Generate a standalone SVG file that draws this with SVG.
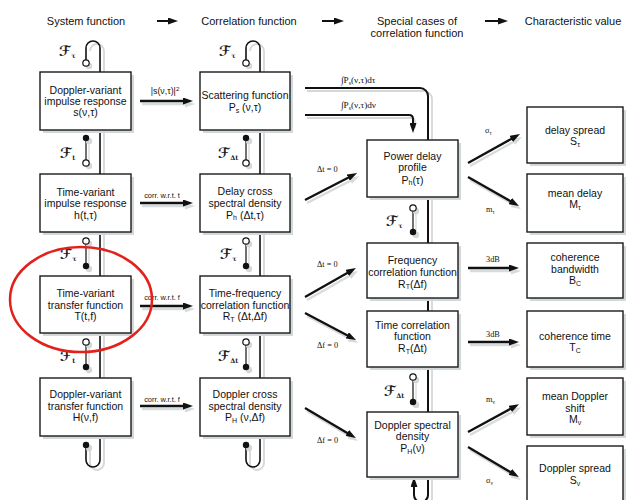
<svg xmlns="http://www.w3.org/2000/svg" width="626" height="500" viewBox="0 0 626 500">
<style>
.t{font-family:"Liberation Sans",Arial,sans-serif;font-size:10.5px;text-anchor:middle;fill:#111}
.h{font-family:"Liberation Sans",Arial,sans-serif;font-size:11px;text-anchor:middle;fill:#111}
.s{font-size:7px}
.box{fill:#fff;stroke:#1a1a1a;stroke-width:1.4}
.bsh{fill:#d3d8da}
.ln{fill:none;stroke:#111;stroke-width:1.6}
.lsh{fill:none;stroke:#d3d8da;stroke-width:1.8}
.ar{fill:none;stroke:#111;stroke-width:2.3;marker-end:url(#ah)}
.as{fill:none;stroke:#d6dbdd;stroke-width:2.3;marker-end:url(#ahs)}
.sm{stroke:#111;stroke-width:1.2}
.smh{stroke:#d3d8da;stroke-width:1.2}
.oc{fill:#fff;stroke:#111;stroke-width:1.2}
.fc{fill:#111}
.gc{fill:#d3d8da}
.f{font-family:"DejaVu Serif","DejaVu Sans",serif;font-style:italic;font-weight:bold;font-size:14px;fill:#222}
.fs{font-family:"DejaVu Serif",serif;font-style:normal;font-weight:bold;font-size:6.5px}
.lab{font-family:"Liberation Serif","Times New Roman",serif;font-size:8.3px;fill:#111}
.cl{font-family:"Liberation Sans",Arial,sans-serif;font-size:7.4px;fill:#111}
</style>
<defs>
<marker id="ah" viewBox="0 0 10 7" refX="2" refY="3.5" markerWidth="10" markerHeight="7" markerUnits="userSpaceOnUse" orient="auto"><path d="M0,0L10,3.5L0,7z" fill="#111"/></marker>
<marker id="ahs" viewBox="0 0 10 7" refX="2" refY="3.5" markerWidth="10" markerHeight="7" markerUnits="userSpaceOnUse" orient="auto"><path d="M0,0L10,3.5L0,7z" fill="#d6dbdd"/></marker>
</defs>
<rect width="626" height="500" fill="#fff"/>

<g id="headers">
<text class="h" x="86" y="25">System function</text>
<text class="h" x="249" y="25">Correlation function</text>
<text class="h" x="417" y="25">Special cases of</text>
<text class="h" x="417" y="37">correlation function</text>
<text class="h" x="573" y="25">Characteristic value</text>
<line class="ar" x1="157" y1="21" x2="170" y2="21" style="stroke-width:2"/>
<line class="ar" x1="322" y1="21" x2="336" y2="21" style="stroke-width:2"/>
<line class="ar" x1="485" y1="21" x2="500" y2="21" style="stroke-width:2"/>
</g>

<g id="connectors">
<path class="lsh" d="M90,51 V51 A7,7 0 0 1 104,51 V463 A7,7 0 0 1 90,463 V451"/>
<path class="lsh" d="M250,51 V51 A7,7 0 0 1 264,51 V463 A7,7 0 0 1 250,463 V451"/>
<path class="lsh" d="M307,91 H424 A8,8 0 0 1 432,99 V500"/>
<path class="lsh" d="M307,118 H411 Q415,118 415,122 V128"/>
<path class="ln" d="M86,60 V48 A7,7 0 0 1 100,48 V460 A7,7 0 0 1 86,460 V448"/>
<path class="ln" d="M246,60 V48 A7,7 0 0 1 260,48 V460 A7,7 0 0 1 246,460 V448"/>
<path class="ar" style="stroke-width:2" d="M305,88 H420 A8,8 0 0 1 428,96 V495 A7,7 0 0 1 414,495 V485"/>
<path class="ar" style="stroke-width:2" d="M305,115 H409 Q413,115 413,119 V125"/>
<g>
<line class="smh" x1="89" y1="141" x2="89" y2="166"/><line class="sm" x1="86" y1="138" x2="86" y2="163"/>
<line class="smh" x1="89" y1="244" x2="89" y2="269"/><line class="sm" x1="86" y1="241" x2="86" y2="266"/>
<line class="smh" x1="89" y1="345" x2="89" y2="370"/><line class="sm" x1="86" y1="342" x2="86" y2="367"/>
<line class="smh" x1="249" y1="141" x2="249" y2="166"/><line class="sm" x1="246" y1="138" x2="246" y2="163"/>
<line class="smh" x1="249" y1="244" x2="249" y2="269"/><line class="sm" x1="246" y1="241" x2="246" y2="266"/>
<line class="smh" x1="249" y1="345" x2="249" y2="370"/><line class="sm" x1="246" y1="342" x2="246" y2="367"/>
<line class="smh" x1="416" y1="211" x2="416" y2="235"/><line class="sm" x1="413" y1="208" x2="413" y2="232"/>
<line class="smh" x1="416" y1="380" x2="416" y2="405"/><line class="sm" x1="413" y1="377" x2="413" y2="402"/>
<circle class="gc" cx="89" cy="66" r="3.2"/><circle class="oc" cx="86" cy="63" r="3.2"/>
<circle class="gc" cx="89" cy="448" r="3.2"/><circle class="fc" cx="86" cy="445" r="3.2"/>
<circle class="gc" cx="249" cy="66" r="3.2"/><circle class="oc" cx="246" cy="63" r="3.2"/>
<circle class="gc" cx="249" cy="448" r="3.2"/><circle class="fc" cx="246" cy="445" r="3.2"/>
<circle class="gc" cx="89" cy="141" r="3.2"/><circle class="fc" cx="86" cy="138" r="3.2"/>
<circle class="gc" cx="89" cy="166" r="3.2"/><circle class="oc" cx="86" cy="163" r="3.2"/>
<circle class="gc" cx="89" cy="244" r="3.2"/><circle class="oc" cx="86" cy="241" r="3.2"/>
<circle class="gc" cx="89" cy="269" r="3.2"/><circle class="fc" cx="86" cy="266" r="3.2"/>
<circle class="gc" cx="89" cy="345" r="3.2"/><circle class="oc" cx="86" cy="342" r="3.2"/>
<circle class="gc" cx="89" cy="370" r="3.2"/><circle class="fc" cx="86" cy="367" r="3.2"/>
<circle class="gc" cx="249" cy="141" r="3.2"/><circle class="fc" cx="246" cy="138" r="3.2"/>
<circle class="gc" cx="249" cy="166" r="3.2"/><circle class="oc" cx="246" cy="163" r="3.2"/>
<circle class="gc" cx="249" cy="244" r="3.2"/><circle class="oc" cx="246" cy="241" r="3.2"/>
<circle class="gc" cx="249" cy="269" r="3.2"/><circle class="fc" cx="246" cy="266" r="3.2"/>
<circle class="gc" cx="249" cy="345" r="3.2"/><circle class="oc" cx="246" cy="342" r="3.2"/>
<circle class="gc" cx="249" cy="370" r="3.2"/><circle class="fc" cx="246" cy="367" r="3.2"/>
<circle class="gc" cx="416" cy="211" r="3.2"/><circle class="oc" cx="413" cy="208" r="3.2"/>
<circle class="gc" cx="416" cy="235" r="3.2"/><circle class="fc" cx="413" cy="232" r="3.2"/>
<circle class="gc" cx="416" cy="380" r="3.2"/><circle class="oc" cx="413" cy="377" r="3.2"/>
<circle class="gc" cx="416" cy="405" r="3.2"/><circle class="fc" cx="413" cy="402" r="3.2"/>
</g>
<text class="f" x="59" y="56">ℱ<tspan class="fs" dx="1" dy="2">τ</tspan></text>
<text class="f" x="60" y="158">ℱ<tspan class="fs" dx="1" dy="2">t</tspan></text>
<text class="f" x="60" y="259">ℱ<tspan class="fs" dx="1" dy="2">τ</tspan></text>
<text class="f" x="60" y="361">ℱ<tspan class="fs" dx="1" dy="2">t</tspan></text>
<text class="f" x="219" y="56">ℱ<tspan class="fs" dx="1" dy="2">τ</tspan></text>
<text class="f" x="218" y="158">ℱ<tspan class="fs" dx="1" dy="2">Δt</tspan></text>
<text class="f" x="220" y="259">ℱ<tspan class="fs" dx="1" dy="2">τ</tspan></text>
<text class="f" x="218" y="361">ℱ<tspan class="fs" dx="1" dy="2">Δt</tspan></text>
<text class="f" x="386" y="226">ℱ<tspan class="fs" dx="1" dy="2">τ</tspan></text>
<text class="f" x="384" y="396">ℱ<tspan class="fs" dx="1" dy="2">Δt</tspan></text>
<line class="as" x1="142" y1="104" x2="187" y2="104"/><line class="ar" x1="140" y1="101" x2="185" y2="101"/>
<line class="as" x1="142" y1="206" x2="187" y2="206"/><line class="ar" x1="140" y1="203" x2="185" y2="203"/>
<line class="as" x1="142" y1="309" x2="187" y2="309"/><line class="ar" x1="140" y1="306" x2="185" y2="306"/>
<line class="as" x1="142" y1="409" x2="187" y2="409"/><line class="ar" x1="140" y1="406" x2="185" y2="406"/>
<text class="cl" x="165" y="94" text-anchor="middle" style="font-size:8.8px">|s(ν,τ)|<tspan dy="-3" style="font-size:6px">2</tspan></text>
<text class="cl" x="162" y="198" text-anchor="middle">corr. w.r.t. t</text>
<text class="cl" x="162" y="300" text-anchor="middle">corr. w.r.t. f</text>
<text class="cl" x="162" y="402" text-anchor="middle">corr. w.r.t. f</text>
<text class="lab" x="341" y="83" style="font-size:9.2px">∫P<tspan style="font-size:6px" dy="1.5">s</tspan><tspan dy="-1.5">(ν,τ)dτ</tspan></text>
<text class="lab" x="341" y="108" style="font-size:9.2px">∫P<tspan style="font-size:6px" dy="1.5">s</tspan><tspan dy="-1.5">(ν,τ)dν</tspan></text>
<line class="as" x1="307" y1="203" x2="352" y2="180"/><line class="ar" x1="305" y1="200" x2="350" y2="176.7"/>
<line class="as" x1="307" y1="300" x2="351" y2="275"/><line class="ar" x1="305" y1="297" x2="349" y2="272"/>
<line class="as" x1="307" y1="316" x2="351" y2="339.3"/><line class="ar" x1="305" y1="313" x2="349" y2="336.3"/>
<line class="as" x1="307" y1="411" x2="351" y2="437"/><line class="ar" x1="305" y1="408" x2="349" y2="434"/>
<text class="lab" x="317" y="172">Δt = 0</text>
<text class="lab" x="317" y="267">Δt = 0</text>
<text class="lab" x="317" y="348">Δf = 0</text>
<text class="lab" x="317" y="443">Δf = 0</text>
<line class="as" x1="470" y1="166" x2="515" y2="141"/><line class="ar" x1="468" y1="163" x2="513" y2="138"/>
<line class="as" x1="470" y1="180" x2="514" y2="205"/><line class="ar" x1="468" y1="177" x2="512" y2="202"/>
<line class="as" x1="470" y1="271" x2="513" y2="271"/><line class="ar" x1="468" y1="268" x2="511" y2="268"/>
<line class="as" x1="470" y1="345" x2="513" y2="345"/><line class="ar" x1="468" y1="342" x2="511" y2="342"/>
<line class="as" x1="470" y1="435" x2="514" y2="411"/><line class="ar" x1="468" y1="432" x2="512" y2="408"/>
<line class="as" x1="470" y1="450" x2="514" y2="476"/><line class="ar" x1="468" y1="447" x2="512" y2="473"/>
<text class="lab" x="485" y="133">σ<tspan style="font-size:5.5px" dy="1.5">τ</tspan></text>
<text class="lab" x="486" y="212">m<tspan style="font-size:5.5px" dy="1.5">τ</tspan></text>
<text class="lab" x="486" y="262">3dB</text>
<text class="lab" x="486" y="337">3dB</text>
<text class="lab" x="486" y="402">m<tspan style="font-size:5.5px" dy="1.5">ν</tspan></text>
<text class="lab" x="486" y="483">σ<tspan style="font-size:5.5px" dy="1.5">ν</tspan></text>
</g>

<g id="n-s">
<rect class="bsh" x="43" y="75" width="91" height="58"/><rect class="box" x="40" y="72" width="91" height="58"/>
<text class="t" x="85.5" y="94">Doppler-variant</text><text class="t" x="85.5" y="105">impulse response</text><text class="t" x="85.5" y="116">s(ν,τ)</text>
</g>
<g id="n-h">
<rect class="bsh" x="43" y="177" width="91" height="58"/><rect class="box" x="40" y="174" width="91" height="58"/>
<text class="t" x="85.5" y="195.5">Time-variant</text><text class="t" x="85.5" y="207">impulse response</text><text class="t" x="85.5" y="218.5">h(t,τ)</text>
</g>
<g id="n-T">
<rect class="bsh" x="43" y="279" width="91" height="57"/><rect class="box" x="40" y="276" width="91" height="57"/>
<text class="t" x="85.5" y="297">Time-variant</text><text class="t" x="85.5" y="308.5">transfer function</text><text class="t" x="85.5" y="320">T(t,f)</text>
</g>
<g id="n-H">
<rect class="bsh" x="43" y="381" width="91" height="58"/><rect class="box" x="40" y="378" width="91" height="58"/>
<text class="t" x="85.5" y="398">Doppler-variant</text><text class="t" x="85.5" y="409.5">transfer function</text><text class="t" x="85.5" y="421">H(ν,f)</text>
</g>

<g id="n-Ps">
<rect class="bsh" x="203" y="75" width="90" height="58"/><rect class="box" x="200" y="72" width="90" height="58"/>
<text class="t" x="245" y="98.5">Scattering function</text><text class="t" x="245" y="111">P<tspan class="s" dy="1.5">s</tspan><tspan dy="-1.5"> (ν,τ)</tspan></text>
</g>
<g id="n-Ph">
<rect class="bsh" x="203" y="177" width="90" height="58"/><rect class="box" x="200" y="174" width="90" height="58"/>
<text class="t" x="245" y="195">Delay cross</text><text class="t" x="245" y="206.5">spectral density</text><text class="t" x="245" y="218.5">P<tspan class="s" dy="1.5">h</tspan><tspan dy="-1.5"> (Δt,τ)</tspan></text>
</g>
<g id="n-RT">
<rect class="bsh" x="203" y="279" width="90" height="57"/><rect class="box" x="200" y="276" width="90" height="57"/>
<text class="t" x="245" y="297">Time-frequency</text><text class="t" x="245" y="308.5">correlation function</text><text class="t" x="245" y="320">R<tspan class="s" dy="1.5">T</tspan><tspan dy="-1.5"> (Δt,Δf)</tspan></text>
</g>
<g id="n-PH">
<rect class="bsh" x="203" y="381" width="90" height="58"/><rect class="box" x="200" y="378" width="90" height="58"/>
<text class="t" x="245" y="398">Doppler cross</text><text class="t" x="245" y="409.5">spectral density</text><text class="t" x="245" y="421">P<tspan class="s" dy="1.5">H</tspan><tspan dy="-1.5"> (ν,Δf)</tspan></text>
</g>

<g id="n-pdp">
<rect class="bsh" x="370" y="143" width="91" height="57"/><rect class="box" x="367" y="140" width="91" height="57"/>
<text class="t" x="412.5" y="159.5">Power delay</text><text class="t" x="412.5" y="171">profile</text><text class="t" x="412.5" y="183.5">P<tspan class="s" dy="1.5">h</tspan><tspan dy="-1.5">(τ)</tspan></text>
</g>
<g id="n-fcf">
<rect class="bsh" x="370" y="246" width="91" height="55"/><rect class="box" x="367" y="243" width="91" height="55"/>
<text class="t" x="412.5" y="264">Frequency</text><text class="t" x="412.5" y="275.5">correlation function</text><text class="t" x="412.5" y="287.5">R<tspan class="s" dy="1.5">T</tspan><tspan dy="-1.5">(Δf)</tspan></text>
</g>
<g id="n-tcf">
<rect class="bsh" x="370" y="314" width="91" height="56"/><rect class="box" x="367" y="311" width="91" height="56"/>
<text class="t" x="412.5" y="328.5">Time correlation</text><text class="t" x="412.5" y="340">function</text><text class="t" x="412.5" y="352">R<tspan class="s" dy="1.5">T</tspan><tspan dy="-1.5">(Δt)</tspan></text>
</g>
<g id="n-dsd">
<rect class="bsh" x="370" y="415" width="91" height="65"/><rect class="box" x="367" y="412" width="91" height="65"/>
<text class="t" x="412.5" y="428.5">Doppler spectral</text><text class="t" x="412.5" y="440">density</text><text class="t" x="412.5" y="452">P<tspan class="s" dy="1.5">H</tspan><tspan dy="-1.5">(ν)</tspan></text>
</g>

<g id="n-ds">
<rect class="bsh" x="530" y="110" width="97" height="56"/><rect class="box" x="527" y="107" width="96" height="56"/>
<text class="t" x="575" y="134">delay spread</text><text class="t" x="575" y="145">S<tspan class="s" dy="1.5">τ</tspan></text>
</g>
<g id="n-md">
<rect class="bsh" x="530" y="177" width="97" height="58"/><rect class="box" x="527" y="174" width="96" height="58"/>
<text class="t" x="575" y="197">mean delay</text><text class="t" x="575" y="208">M<tspan class="s" dy="1.5">τ</tspan></text>
</g>
<g id="n-bc">
<rect class="bsh" x="530" y="246" width="97" height="55"/><rect class="box" x="527" y="243" width="96" height="55"/>
<text class="t" x="575" y="261">coherence</text><text class="t" x="575" y="272.5">bandwidth</text><text class="t" x="575" y="284">B<tspan class="s" dy="1.5">C</tspan></text>
</g>
<g id="n-tc">
<rect class="bsh" x="530" y="314" width="97" height="56"/><rect class="box" x="527" y="311" width="96" height="56"/>
<text class="t" x="575" y="340">coherence time</text><text class="t" x="575" y="351">T<tspan class="s" dy="1.5">C</tspan></text>
</g>
<g id="n-mds">
<rect class="bsh" x="530" y="381" width="97" height="57"/><rect class="box" x="527" y="378" width="96" height="57"/>
<text class="t" x="575" y="400">mean Doppler</text><text class="t" x="575" y="411.5">shift</text><text class="t" x="575" y="423">M<tspan class="s" dy="1.5">ν</tspan></text>
</g>
<g id="n-dsp">
<rect class="bsh" x="530" y="449" width="97" height="60"/><rect class="box" x="527" y="446" width="96" height="60"/>
<text class="t" x="575" y="472">Doppler spread</text><text class="t" x="575" y="484">S<tspan class="s" dy="1.5">ν</tspan></text>
</g>

<g id="highlight">
<ellipse cx="81" cy="299.5" rx="71" ry="52.5" fill="none" stroke="#e3211b" stroke-width="2.5"/>
</g>
</svg>
